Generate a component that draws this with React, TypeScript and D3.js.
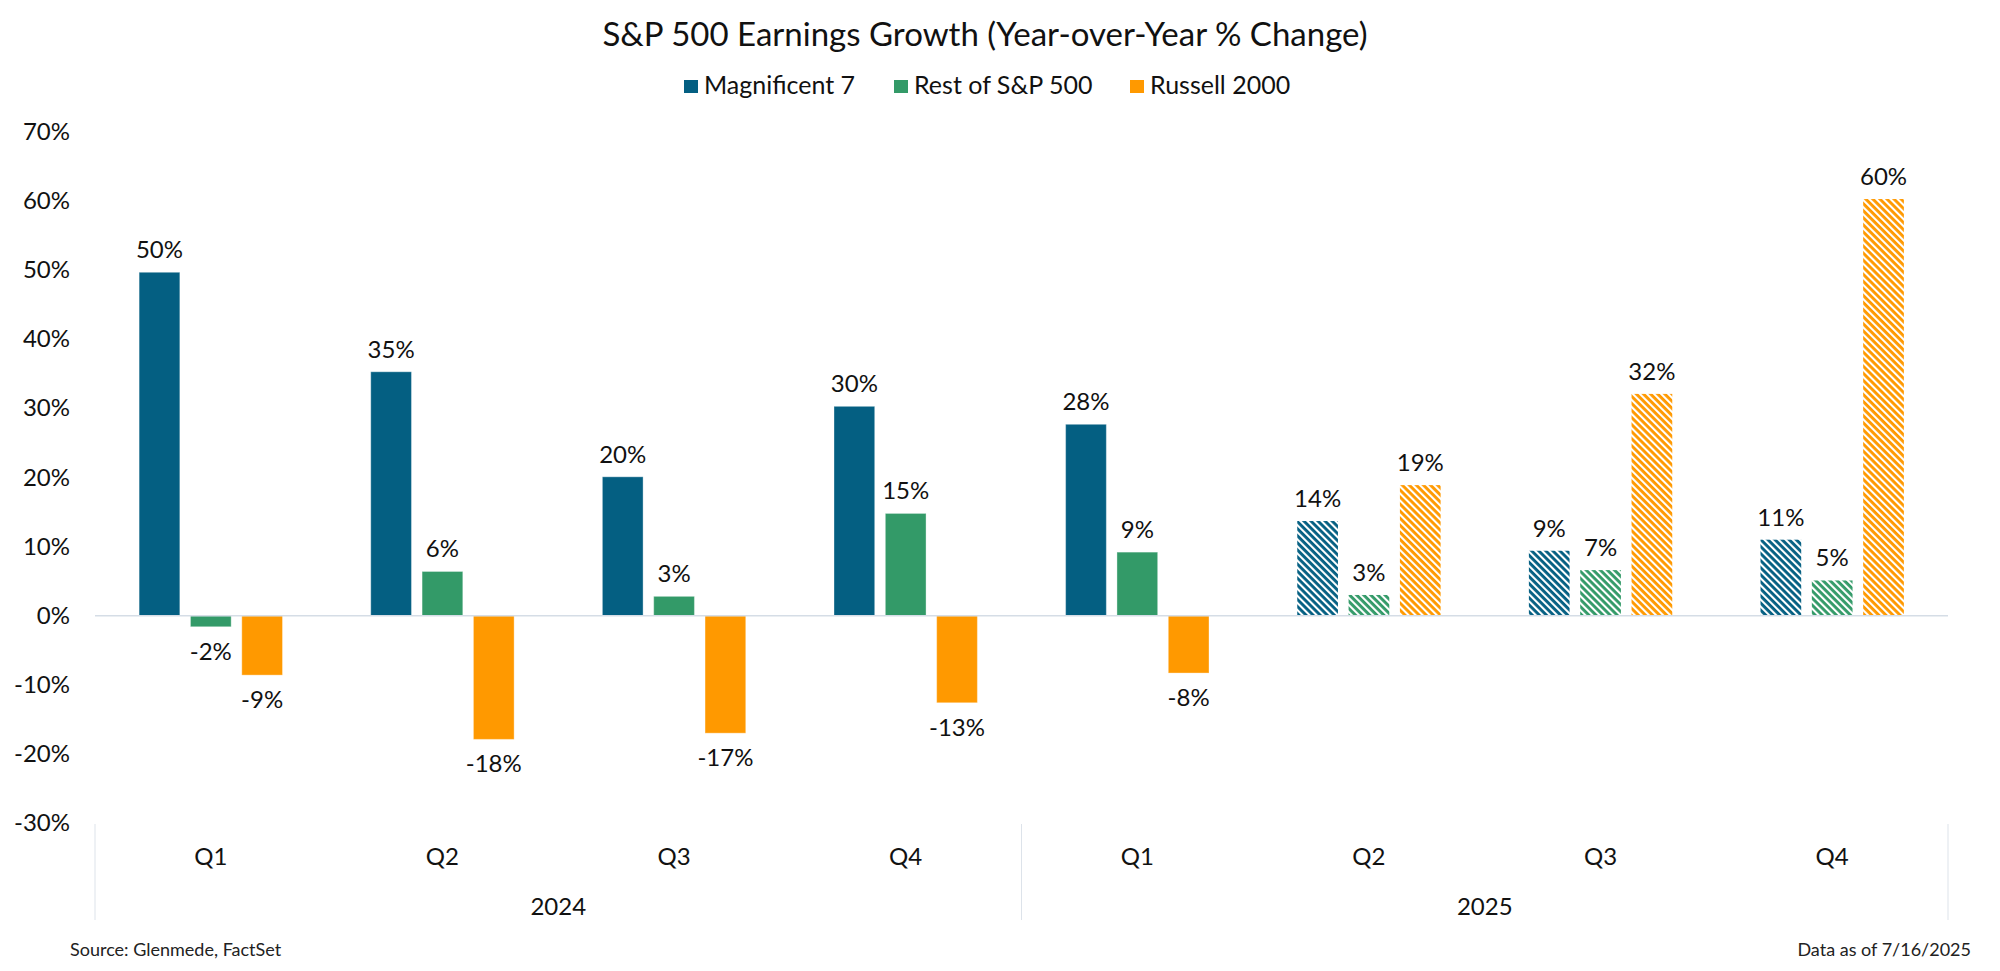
import React from "react";
import * as d3 from "d3";

const quarters = ["Q1", "Q2", "Q3", "Q4", "Q1", "Q2", "Q3", "Q4"];
const years = ["2024", "2025"];
const periodKeys = ["2024Q1", "2024Q2", "2024Q3", "2024Q4", "2025Q1", "2025Q2", "2025Q3", "2025Q4"];
const estimated = [false, false, false, false, false, true, true, true];
const seriesNames = ["Magnificent 7", "Rest of S&P 500", "Russell 2000"];
const seriesColors = ["#045F82", "#339A68", "#FF9900"];
const mag7 = [49.7, 35.3, 20.1, 30.3, 27.7, 13.7, 9.4, 11.0];
const restSP = [-1.6, 6.4, 2.8, 14.8, 9.2, 3.0, 6.6, 5.1];
const russell = [-8.6, -17.9, -17.0, -12.6, -8.3, 18.9, 32.1, 60.3];
const labels = [
  ["50%", "35%", "20%", "30%", "28%", "14%", "9%", "11%"],
  ["-2%", "6%", "3%", "15%", "9%", "3%", "7%", "5%"],
  ["-9%", "-18%", "-17%", "-13%", "-8%", "19%", "32%", "60%"],
];
const yTicks = [-30, -20, -10, 0, 10, 20, 30, 40, 50, 60, 70];

const FONT = "Lato, 'Open Sans', sans-serif";

export default function App() {
  const W = 2000, H = 971;
  const left = 95, right = 1948, top = 132, bottom = 823;
  const y = d3.scaleLinear().domain([-30, 70]).range([bottom, top]);
  const x0 = d3.scaleBand<string>().domain(periodKeys).range([left, right]).paddingInner(0.381).paddingOuter(0.1905);
  const x1 = d3.scaleBand<string>().domain(seriesNames).range([0, x0.bandwidth()]).paddingInner(0.207).paddingOuter(0);
  const allSeries = [mag7, restSP, russell];
  const step = x0.step();
  const groupCenter = (i: number) => (x0(periodKeys[i]) as number) + x0.bandwidth() / 2;
  const sepXs = [left, left + step * 4, right];

  return (
    <svg width={W} height={H} style={{ position: "absolute", left: 0, top: 0, background: "#fff" }} fontFamily={FONT}>
      <defs>
        {seriesColors.map((c, i) => (
          <pattern key={i} id={`hatch${i}`} patternUnits="userSpaceOnUse" width={5} height={5} patternTransform="rotate(45)">
            <rect width={5} height={5} fill="#fff" />
            <rect width={5} height={2.9} fill={c} />
          </pattern>
        ))}
      </defs>
      <rect width={W} height={H} fill="#fff" />
      <text x={985} y={46} textAnchor="middle" fontSize={33} fill="#111">
        S&amp;P 500 Earnings Growth (Year-over-Year % Change)
      </text>
      {/* legend */}
      {[
        { sx: 684, tx: 704 },
        { sx: 894, tx: 914 },
        { sx: 1130, tx: 1150 },
      ].map((p, i) => (
        <g key={i}>
          <rect x={p.sx} y={80} width={14} height={13} fill={seriesColors[i]} />
          <text x={p.tx} y={94} fontSize={25} fill="#111">{seriesNames[i]}</text>
        </g>
      ))}
      {/* y tick labels */}
      {yTicks.map((t) => (
        <text key={t} x={70} y={y(t) + 8} textAnchor="end" fontSize={24} fill="#111">{`${t}%`}</text>
      ))}
      {/* bars */}
      {allSeries.map((vals, si) =>
        vals.map((v, pi) => {
          const bx = (x0(periodKeys[pi]) as number) + (x1(seriesNames[si]) as number);
          const y0 = y(0), yv = y(v);
          return (
            <rect
              key={`${si}-${pi}`}
              x={bx}
              y={Math.min(y0, yv)}
              width={x1.bandwidth()}
              height={Math.abs(yv - y0)}
              fill={estimated[pi] ? `url(#hatch${si})` : seriesColors[si]}
              stroke={estimated[pi] ? "none" : "rgba(255,255,255,0.35)"}
              strokeWidth={1}
            />
          );
        })
      )}
      {/* zero line */}
      <line x1={left} x2={right} y1={y(0)} y2={y(0)} stroke="#d5dde6" strokeWidth={1.5} />
      {/* value labels */}
      {allSeries.map((vals, si) =>
        vals.map((v, pi) => {
          const cx = (x0(periodKeys[pi]) as number) + (x1(seriesNames[si]) as number) + x1.bandwidth() / 2;
          const ty = v >= 0 ? y(v) - 14 : y(v) + 33;
          return (
            <text key={`l${si}-${pi}`} x={cx} y={ty} textAnchor="middle" fontSize={24} fill="#111">
              {labels[si][pi]}
            </text>
          );
        })
      )}
      {/* category axis */}
      {sepXs.map((sx, i) => (
        <line key={i} x1={sx} x2={sx} y1={824} y2={920} stroke="#dde3ea" strokeWidth={1} />
      ))}
      {quarters.map((q, i) => (
        <text key={i} x={groupCenter(i)} y={865} textAnchor="middle" fontSize={24} fill="#111">{q}</text>
      ))}
      {years.map((yr, i) => (
        <text key={yr} x={(sepXs[i] + sepXs[i + 1]) / 2} y={915} textAnchor="middle" fontSize={24} fill="#111">{yr}</text>
      ))}
      <text x={70} y={956} fontSize={18} fill="#222">Source: Glenmede, FactSet</text>
      <text x={1971} y={956} textAnchor="end" fontSize={18} fill="#222">Data as of 7/16/2025</text>
    </svg>
  );
}
